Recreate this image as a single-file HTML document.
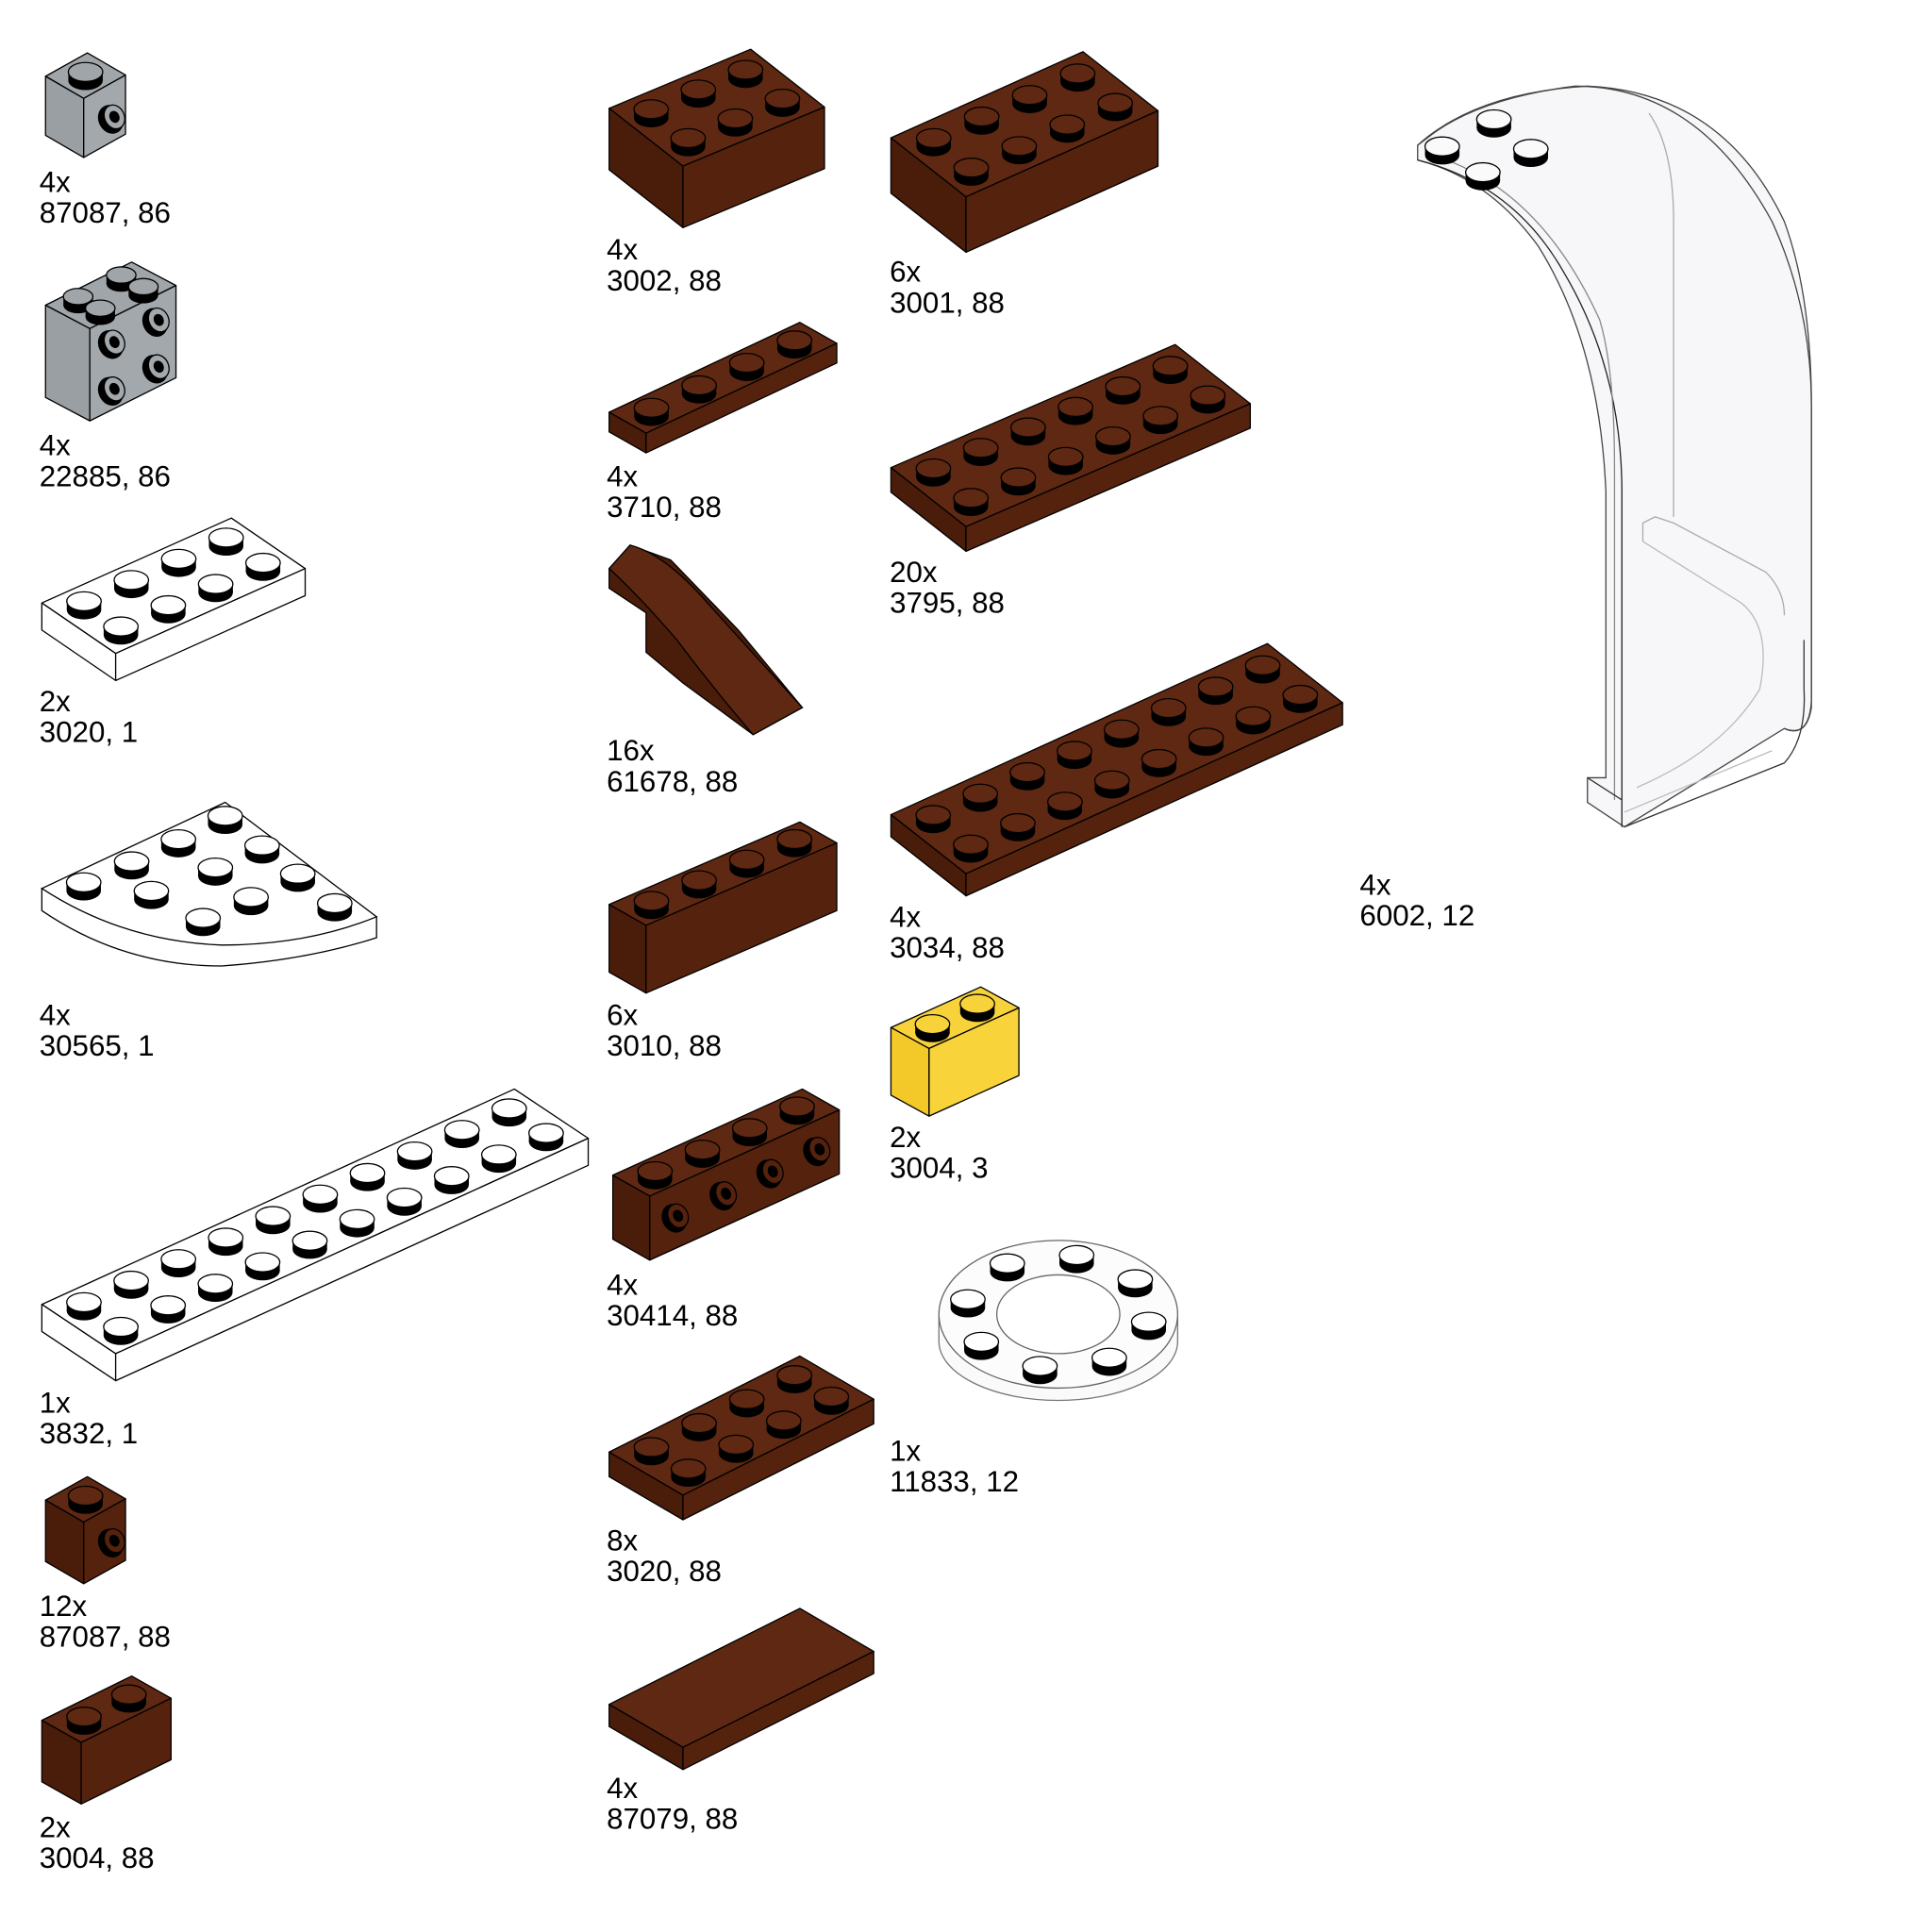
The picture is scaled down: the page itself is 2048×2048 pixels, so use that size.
<!DOCTYPE html>
<html><head><meta charset="utf-8"><style>
html,body{margin:0;padding:0;background:#fff;}
svg{display:block}
text{font-family:"Liberation Sans",sans-serif;font-size:24px;fill:#000}
</style></head><body>
<svg id="s" width="2048" height="2048" viewBox="0 0 1570 1570" xmlns="http://www.w3.org/2000/svg">
<g fill="none" stroke="#333" stroke-width="1">
<path d="M1152,118 Q1200,75 1290,70 Q1400,75 1450,180 Q1472,240 1472,330 L1472,575 Q1468,600 1450,592 L1320,672 L1290,652 L1290,632 L1305,632 L1305,400 Q1300,280 1250,200 Q1210,145 1152,130 Z" fill="#f7f7f9" stroke="#444"/>
<path d="M1152,118 L1160,112 Q1200,80 1280,70 Q1380,70 1440,180 Q1472,250 1472,330 L1472,570 Q1470,600 1450,592" stroke="#444"/>
<path d="M1152,130 Q1230,150 1270,220 Q1318,300 1318,400 L1318,672" stroke="#222"/>
<path d="M1160,125 Q1250,150 1300,260 Q1312,300 1312,380 L1312,650" stroke="#888"/>
<path d="M1290,632 L1318,650 M1320,672 L1450,620 Q1468,600 1466,560 L1466,520"/>
<path d="M1340,92 Q1360,120 1360,180 L1360,420" stroke="#aaa"/>
<path d="M1335,440 L1335,425 L1345,420 L1360,425 L1435,465 Q1450,480 1450,500" stroke="#aaa"/>
<path d="M1335,440 L1415,490 Q1440,510 1430,560 Q1400,610 1330,640" stroke="#bbb"/>
<path d="M1320,660 L1440,610" stroke="#bbb"/>
</g>
<g id="g"></g>
<text x="32" y="156">4x</text><text x="32" y="181">87087, 86</text>
<text x="32" y="370">4x</text><text x="32" y="395">22885, 86</text>
<text x="32" y="578">2x</text><text x="32" y="603">3020, 1</text>
<text x="32" y="833">4x</text><text x="32" y="858">30565, 1</text>
<text x="32" y="1148">1x</text><text x="32" y="1173">3832, 1</text>
<text x="32" y="1313">12x</text><text x="32" y="1338">87087, 88</text>
<text x="32" y="1493">2x</text><text x="32" y="1518">3004, 88</text>
<text x="493" y="211">4x</text><text x="493" y="236">3002, 88</text>
<text x="493" y="395">4x</text><text x="493" y="420">3710, 88</text>
<text x="493" y="618">16x</text><text x="493" y="643">61678, 88</text>
<text x="493" y="833">6x</text><text x="493" y="858">3010, 88</text>
<text x="493" y="1052">4x</text><text x="493" y="1077">30414, 88</text>
<text x="493" y="1260">8x</text><text x="493" y="1285">3020, 88</text>
<text x="493" y="1461">4x</text><text x="493" y="1486">87079, 88</text>
<text x="723" y="229">6x</text><text x="723" y="254">3001, 88</text>
<text x="723" y="473">20x</text><text x="723" y="498">3795, 88</text>
<text x="723" y="753">4x</text><text x="723" y="778">3034, 88</text>
<text x="723" y="932">2x</text><text x="723" y="957">3004, 3</text>
<text x="723" y="1187">1x</text><text x="723" y="1212">11833, 12</text>
<text x="1105" y="727">4x</text><text x="1105" y="752">6002, 12</text>
</svg>
<script>
var g=document.getElementById('g');var NS='http://www.w3.org/2000/svg';
function el(t,a){var e=document.createElementNS(NS,t);for(var k in a)e.setAttribute(k,a[k]);g.appendChild(e);return e;}
function P(pts){return pts.map(function(p){return p[0]+','+p[1]}).join(' ');}
var COL={br:['#5e2812','#4a1c0a','#55220e'],gr:['#a0a5a9','#9a9fa3','#a3a8ac'],wh:['#fff','#fff','#fff'],ye:['#f8d23a','#f2c928','#f8d33a']};
function stud(x,y,c,r){r=r||14;var ry=r*0.55;
 el('ellipse',{cx:x,cy:y,rx:r,ry:ry,fill:'#000'});
 el('rect',{x:x-r,y:y-7,width:2*r,height:7,fill:'#000'});
 el('ellipse',{cx:x,cy:y-7,rx:r,ry:ry,fill:c,stroke:'#000','stroke-width':1});}
function side(x,y,c){el('ellipse',{cx:x,cy:y,rx:10,ry:12,fill:'#000',transform:'rotate(-25 '+x+' '+y+')'});
 el('ellipse',{cx:x+3,cy:y-2,rx:8,ry:10,fill:c,stroke:'#000',transform:'rotate(-25 '+(x+3)+' '+(y-2)+')'});
 el('ellipse',{cx:x+3,cy:y-2,rx:4,ry:5,fill:'#000',transform:'rotate(-25 '+(x+3)+' '+(y-2)+')'});}
function box(A,B,D,h,col,nx,ny,sr){var c=COL[col];var C=[B[0]+D[0]-A[0],B[1]+D[1]-A[1]];
 var s={stroke:'#000','stroke-width':1,'stroke-linejoin':'round'};
 function f(pts,fill){var o={points:P(pts),fill:fill};for(var k in s)o[k]=s[k];el('polygon',o);}
 f([A,B,C,D],c[0]);
 f([A,D,[D[0],D[1]+h],[A[0],A[1]+h]],c[1]);
 f([D,C,[C[0],C[1]+h],[D[0],D[1]+h]],c[2]);
 for(var j=0;j<ny;j++)for(var i=nx-1;i>=0;i--){var u=(i+.5)/nx,v=(j+.5)/ny;
  stud(A[0]+u*(B[0]-A[0])+v*(D[0]-A[0]),A[1]+u*(B[1]-A[1])+v*(D[1]-A[1])+4,c[0],sr);}
 return C;}
// windscreen studs
[[1214,104],[1172,126],[1244,128],[1205,147]].forEach(function(p){stud(p[0],p[1],'#fafafa',14);});
// column 1
box([37,62],[71,43],[68,80],48,'gr',1,1);side(90,97,COL.gr[2]);
box([37,248],[107,213],[73,267],75,'gr',2,2,12);
side(90,280,COL.gr[2]);side(126,262,COL.gr[2]);side(90,318,COL.gr[2]);side(126,300,COL.gr[2]);
box([34,490],[188,421],[94,531],22,'wh',4,2);
el('path',{d:'M34,722 L34,740 Q100,785 180,785 Q250,780 306,762 L306,745 Z',fill:'#fff',stroke:'#000'});
el('path',{d:'M34,722 L183,652 L306,745 Q250,768 180,768 Q100,765 34,722 Z',fill:'#fff',stroke:'#000'});
[[183,666],[145,685],[213,690],[107,703],[175,708],[242,713],[68,720],[123,727],[204,732],[272,737],[165,749]].forEach(function(p){stud(p[0],p[1]+4,'#fff');});
box([34,1060],[418,885],[94,1100],22,'wh',10,2);
box([37,1219],[71,1200],[68,1237],50,'br',1,1);side(90,1254,COL.br[2]);
box([34,1398],[107,1362],[66,1416],50,'br',2,1);
// column 2
box([495,88],[610,40],[555,135],50,'br',3,2);
box([495,335],[650,262],[525,352],16,'br',4,1);
el('polygon',{points:'495,462 512,443 545,455 600,512 652,575 612,597 555,555 525,530 525,498 495,478',fill:'#4a1c0a',stroke:'#000'});
el('path',{d:'M512,443 Q540,450 575,490 Q620,540 652,575 L612,597 Q580,560 550,520 Q520,485 495,462 Z',fill:'#5e2812',stroke:'#000'});
box([495,735],[650,668],[525,752],55,'br',4,1);
box([498,955],[652,885],[528,972],52,'br',4,1);
side(548,990,COL.br[2]);side(587,972,COL.br[2]);side(625,954,COL.br[2]);side(663,936,COL.br[2]);
box([495,1180],[650,1102],[555,1215],20,'br',4,2);
box([495,1385],[650,1307],[555,1420],18,'br',0,0);
// column 3
box([724,112],[880,42],[785,160],45,'br',4,2);
box([724,380],[955,280],[785,428],20,'br',6,2);
box([724,662],[1030,523],[785,710],18,'br',8,2);
box([724,835],[797,802],[755,852],55,'ye',2,1);
// ring
el('path',{d:'M763,1070 L763,1090 A97,48 0 0 0 957,1090 L957,1070',fill:'#fafafa',stroke:'#777'});
el('ellipse',{cx:860,cy:1068,rx:97,ry:60,fill:'#fcfcfc',stroke:'#666'});
el('ellipse',{cx:860,cy:1068,rx:50,ry:32,fill:'#fff',stroke:'#666'});
var pts=[];for(var k=0;k<8;k++){var a=k/8*2*Math.PI+0.2;pts.push([860+75*Math.cos(a),1068+46*Math.sin(a)]);}
pts.sort(function(a,b){return a[1]-b[1]}).forEach(function(p){stud(p[0],p[1]+4,'#fff',14);});
</script>
</body></html>
